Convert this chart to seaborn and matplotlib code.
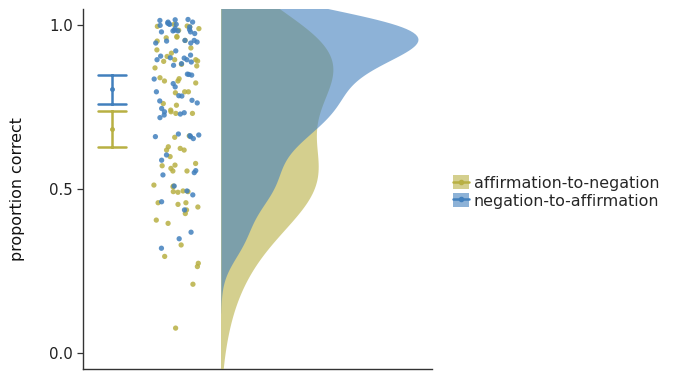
import numpy as np
import pandas as pd
import seaborn as sns
import matplotlib.pyplot as plt
from matplotlib.patches import Patch
from matplotlib.lines import Line2D

# Per-participant proportion correct, by training order
conditions = ["affirmation-to-negation", "negation-to-affirmation"]
palette = {"affirmation-to-negation": "#B8B043", "negation-to-affirmation": "#4280BD"}

aff_to_neg = [0.997, 0.995, 1.003, 0.998, 0.990, 0.985,
              0.964, 0.952, 0.962, 0.966, 0.954, 0.931,
              0.915, 0.925, 0.905,
              0.895, 0.890, 0.895, 0.876, 0.870, 0.881, 0.891,
              0.830, 0.837, 0.824, 0.840, 0.830,
              0.797, 0.797, 0.794, 0.761, 0.756,
              0.736, 0.731, 0.741, 0.731,
              0.662, 0.629, 0.624, 0.619, 0.658,
              0.599, 0.619, 0.563, 0.573, 0.555, 0.555, 0.578, 0.571,
              0.492, 0.492, 0.509, 0.494, 0.490, 0.507, 0.512, 0.458, 0.436, 0.453, 0.458,
              0.445, 0.425, 0.405,
              0.395, 0.329, 0.294, 0.273, 0.263, 0.209, 0.075]

neg_to_aff = [1.010, 1.015, 1.010, 1.017, 1.018, 1.003, 1.000, 1.003, 1.005, 1.007,
              0.980, 0.983, 0.985, 0.987, 0.980, 0.983, 0.990, 0.995, 0.975,
              0.954, 0.946, 0.949, 0.946, 0.954, 0.952,
              0.922, 0.909, 0.895, 0.906, 0.900, 0.895, 0.901, 0.888, 0.878, 0.883,
              0.851, 0.848, 0.850, 0.836, 0.822, 0.812,
              0.797, 0.785, 0.784, 0.771, 0.763,
              0.769, 0.736, 0.733, 0.718, 0.726, 0.729, 0.746,
              0.663, 0.654, 0.660, 0.668, 0.660, 0.665,
              0.604, 0.588, 0.550, 0.556, 0.543,
              0.509, 0.494, 0.482, 0.461,
              0.436,
              0.368, 0.348, 0.319]

# kernel bandwidths for the density clouds
bandwidths = [0.12, 0.066]
CUT = 3

y_ticks = [0.0, 0.5, 1.0]
y_label = "proportion correct"

# Horizontal layout of the raincloud (axes fraction)
ERR_X, RAIN_X, JITTER, CLOUD_X = 0.083, 0.269, 0.066, 0.395

df = pd.DataFrame({
    "condition": [conditions[0]] * len(aff_to_neg) + [conditions[1]] * len(neg_to_aff),
    "prop": aff_to_neg + neg_to_aff,
})
df["rain_x"] = RAIN_X
df["err_x"] = ERR_X

sns.set_style("ticks")
plt.rcParams["font.family"] = ["DejaVu Sans"]

fig = plt.figure(figsize=(6.75, 3.72), dpi=100)
ax = fig.add_axes([83 / 675, 3 / 372, 349 / 675, 360 / 372])

# rain: jittered individual scores
np.random.seed(7)
sns.stripplot(data=df, x="rain_x", y="prop", hue="condition", hue_order=conditions,
              palette=palette, native_scale=True, jitter=JITTER, size=3.8,
              linewidth=0, alpha=0.85, legend=False, ax=ax)

# mean with 95% interval
sns.pointplot(data=df, x="err_x", y="prop", hue="condition", hue_order=conditions,
              palette=palette, native_scale=True, errorbar=("se", 1.96), dodge=False,
              capsize=0.08, linestyle="none", marker="o", markersize=3.5,
              markeredgewidth=0, linewidth=1.8,
              err_kws={"linewidth": 1.8}, legend=False, ax=ax)

ax.set_xlim(0, 1)
ax.set_ylim(-0.05, 1.05)
ax.set_xticks([])
ax.set_xlabel("")
ax.set_yticks(y_ticks)
ax.set_yticklabels([f"{t:.1f}" for t in y_ticks])
ax.set_ylabel(y_label, fontsize=11.4, color="#111111", labelpad=17)
ax.tick_params(axis="y", labelsize=10.8, length=4, width=0.9, color="#333333",
               labelcolor="#222222")
sns.despine(ax=ax)
for s in ("left", "bottom"):
    ax.spines[s].set_color("#333333")
    ax.spines[s].set_linewidth(1.0)

# cloud: half-violin densities extended past the data
ax_d = ax.inset_axes([CLOUD_X, 0, 1 - CLOUD_X, 1])
ax_d.patch.set_alpha(0)
for cond, vals, bw in zip(conditions, [aff_to_neg, neg_to_aff], bandwidths):
    v = np.asarray(vals)
    sns.kdeplot(y=v, bw_method=bw / v.std(ddof=1), cut=CUT, fill=True,
                color=palette[cond], alpha=0.6, linewidth=0, ax=ax_d)
ax_d.set_ylim(ax.get_ylim())
dmax = max(p.vertices[:, 0].max() for c in ax_d.collections for p in c.get_paths())
ax_d.set_xlim(0, dmax * 211 / 197)
ax_d.set_xlabel("")
ax_d.set_ylabel("")
ax_d.set_xticks([])
ax_d.set_yticks([])
ax_d.axis("off")

handles = [(Patch(facecolor=palette[c], alpha=0.6, linewidth=0),
            Line2D([], [], color=palette[c], lw=1.8, marker="o", ms=3))
           for c in conditions]
fig.legend(handles, conditions, loc="center left", bbox_to_anchor=(453 / 675, 1 - 192 / 372),
           frameon=False, fontsize=11.4, handlelength=1.0, handleheight=1.0,
           handletextpad=0.3, labelspacing=0.15, borderpad=0, borderaxespad=0)

fig.savefig("out.png", dpi=100)
